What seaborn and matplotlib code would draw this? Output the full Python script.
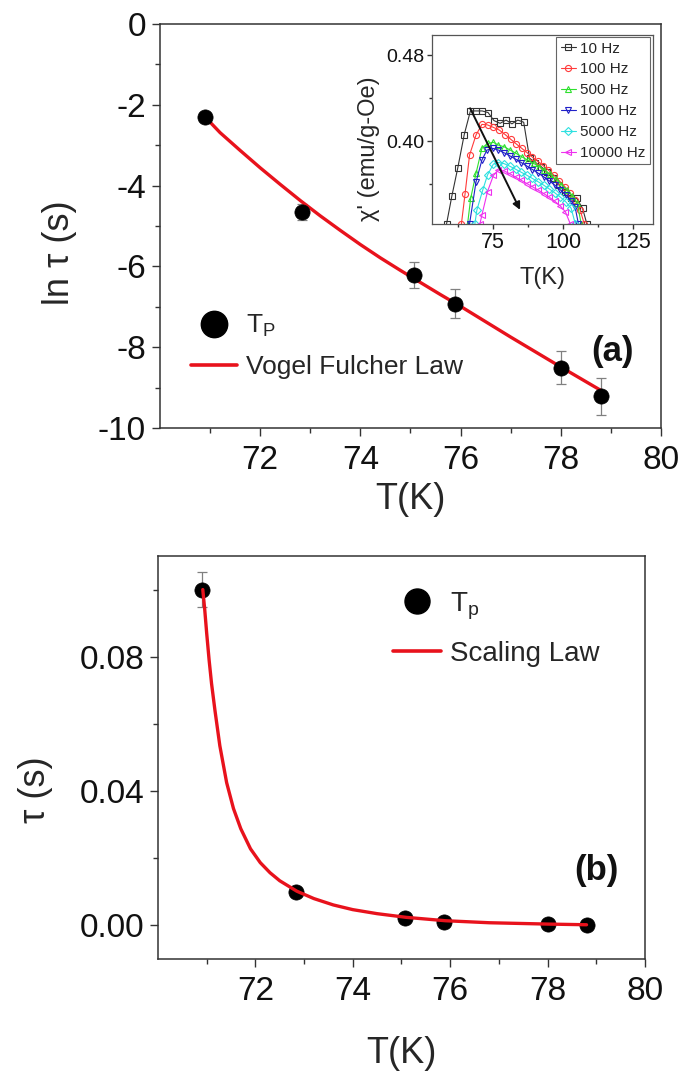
import numpy as np
import pandas as pd
import matplotlib
matplotlib.use("Agg")
import matplotlib.pyplot as plt
import seaborn as sns
from matplotlib.ticker import FixedLocator, FormatStrFormatter
from matplotlib.lines import Line2D

# ---------------- data ----------------
# (a) relaxation time vs peak temperature
tp_T = [70.9, 72.83, 75.08, 75.88, 78.0, 78.8]
ln_tau = [-2.30, -4.65, -6.22, -6.92, -8.51, -9.22]
ln_tau_err = [0.10, 0.20, 0.32, 0.36, 0.41, 0.45]

# Vogel-Fulcher fit curve
vf_T = [70.9, 71.2, 71.6, 72.0, 72.4, 72.8, 73.2, 73.6, 74.0, 74.4, 74.8,
        75.2, 75.6, 76.0, 76.5, 77.0, 77.5, 78.0, 78.4, 78.8]
vf_ln = [-2.30, -2.69, -3.13, -3.56, -3.97, -4.37, -4.75, -5.11, -5.46, -5.79,
         -6.10, -6.40, -6.70, -6.99, -7.37, -7.75, -8.12, -8.49, -8.78, -9.07]

# (b) tau vs T
tau = [0.100, 0.0100, 0.0021, 0.0011, 0.0003, 0.0001]
tau_err = [0.0052, 0.0, 0.0, 0.0, 0.0, 0.0]

# scaling-law fit curve
sc_T = [70.92, 70.96, 71.0, 71.05, 71.1, 71.17, 71.27, 71.41, 71.55, 71.7,
        71.9, 72.1, 72.3, 72.5, 72.85, 73.2, 73.6, 74.0, 74.5, 75.1, 75.9,
        76.8, 78.0, 78.8]
sc_tau = [0.100, 0.094, 0.087, 0.079, 0.072, 0.064, 0.0535, 0.0425, 0.0348,
          0.0288, 0.0228, 0.0187, 0.0157, 0.0133, 0.0102, 0.0080, 0.0061,
          0.0047, 0.0035, 0.0024, 0.0014, 0.0008, 0.0004, 0.0002]

# inset: chi' vs T for several frequencies
T10 = [58.4, 60.3, 62.4, 64.7, 66.9, 69.0, 71.1, 73.2, 75.3, 77.5, 79.6, 81.7,
       83.8, 85.9, 88.0, 90.1, 92.2, 94.3, 96.4, 98.5, 100.6, 102.7, 104.8, 106.9, 108.4]
C10 = [0.323, 0.349, 0.375, 0.406, 0.428, 0.428, 0.428, 0.4265, 0.419, 0.4165,
       0.4195, 0.416, 0.4195, 0.4175, 0.384, 0.380, 0.376, 0.371, 0.366, 0.359,
       0.353, 0.347, 0.3467, 0.3374, 0.323]
T100 = [63.7, 65.0, 66.6, 68.9, 71.0, 73.0, 75.1, 77.2, 79.3, 81.3, 83.3, 85.2,
        87.1, 89.0, 90.9, 92.8, 94.7, 96.6, 98.6, 100.6, 102.5, 104.3, 106.0, 107.5]
C100 = [0.323, 0.351, 0.387, 0.4056, 0.4155, 0.415, 0.4127, 0.4102, 0.4060,
        0.4016, 0.3972, 0.3932, 0.3892, 0.3850, 0.3812, 0.3772, 0.3730, 0.3684,
        0.3630, 0.3575, 0.3515, 0.3450, 0.3360, 0.323]
T500 = [65.9, 67.0, 68.9, 71.0, 73.0, 75.1, 76.9, 78.9, 81.1, 83.2, 85.2, 87.3,
        89.4, 91.4, 93.3, 95.3, 97.3, 99.3, 101.3, 103.2, 105.0, 106.4]
C500 = [0.323, 0.3467, 0.370, 0.3932, 0.3978, 0.3988, 0.3962, 0.3947, 0.3916,
        0.3885, 0.3854, 0.3823, 0.3793, 0.3762, 0.3730, 0.3690, 0.3645, 0.3595,
        0.3545, 0.3490, 0.3420, 0.323]
T1000 = [66.6, 68.9, 71.0, 72.8, 74.9, 76.9, 78.9, 81.0, 83.0, 85.0, 87.0, 89.0,
         91.0, 93.0, 95.0, 97.0, 99.0, 101.0, 102.8, 104.2, 105.4]
C1000 = [0.323, 0.362, 0.3823, 0.3916, 0.3932, 0.3916, 0.3891, 0.3862, 0.3832,
         0.3800, 0.3768, 0.3735, 0.3702, 0.3668, 0.3630, 0.3590, 0.3545, 0.3495,
         0.3445, 0.3390, 0.323]
T5000 = [68.5, 69.2, 71.3, 73.0, 75.1, 76.9, 78.9, 81.0, 83.0, 85.0, 87.0, 89.0,
         91.0, 93.0, 95.0, 97.0, 99.0, 101.0, 102.8, 104.3]
C5000 = [0.323, 0.3358, 0.3544, 0.3684, 0.3786, 0.3800, 0.3790, 0.3765, 0.3738,
         0.3710, 0.3682, 0.3652, 0.3622, 0.3590, 0.3555, 0.3518, 0.3478, 0.3432,
         0.3375, 0.323]
T10000 = [70.3, 71.0, 73.0, 75.1, 76.9, 78.9, 81.0, 83.0, 85.0, 87.0, 89.0, 91.0,
          93.0, 95.0, 97.0, 99.0, 100.8, 102.5]
C10000 = [0.323, 0.3312, 0.3530, 0.3680, 0.3730, 0.3722, 0.3695, 0.3665, 0.3635,
          0.3605, 0.3575, 0.3545, 0.3512, 0.3478, 0.3440, 0.3395, 0.3340, 0.323]

freq_labels = ["10 Hz", "100 Hz", "500 Hz", "1000 Hz", "5000 Hz", "10000 Hz"]
freq_T = [T10, T100, T500, T1000, T5000, T10000]
freq_C = [C10, C100, C500, C1000, C5000, C10000]
freq_colors = ["#333333", "#ff3b3b", "#2ee02e", "#2020c8", "#2ee0e0", "#ee30ee"]
freq_markers = ["s", "o", "^", "v", "D", "<"]
freq_msize = [4.2, 4.4, 4.8, 4.8, 3.8, 4.8]

# ---------------- style ----------------
sns.set_style("ticks")
plt.rcParams["font.family"] = ["Liberation Sans", "DejaVu Sans"]
plt.rcParams["mathtext.fontset"] = "custom"
plt.rcParams["mathtext.rm"] = "Liberation Sans"
plt.rcParams["mathtext.it"] = "Liberation Sans:italic"
plt.rcParams["mathtext.default"] = "regular"

spine_c = "#333333"
red = "#e8121c"

fig = plt.figure(figsize=(6.86, 10.75), dpi=100)
ax1 = fig.add_axes([0.2332, 0.6019, 0.7303, 0.3758])
ax2 = fig.add_axes([0.2303, 0.1079, 0.7099, 0.3749])
axi = fig.add_axes([0.6297, 0.7916, 0.3222, 0.1758])


def style_axis(ax, tick_fs, major_len=6, minor_len=3.5):
    for s in ax.spines.values():
        s.set_visible(True)
        s.set_color(spine_c)
        s.set_linewidth(1.1)
    ax.tick_params(which="both", direction="out", colors=spine_c,
                   top=False, right=False, width=1.0)
    ax.tick_params(which="major", length=major_len, labelsize=tick_fs,
                   labelcolor="#111111")
    ax.tick_params(which="minor", length=minor_len)
    ax.set_facecolor("white")


# ---------------- panel (a) ----------------
ax1.errorbar(tp_T, ln_tau, yerr=ln_tau_err, fmt="none", ecolor="#808080",
             elinewidth=0.9, capsize=3.5, capthick=0.9, zorder=2)
sns.lineplot(x=vf_T, y=vf_ln, color=red, lw=2.4, ax=ax1, estimator=None,
             sort=False, zorder=3)
sns.scatterplot(x=tp_T, y=ln_tau, color="black", s=120, edgecolor="black",
                linewidth=0.5, ax=ax1, zorder=4)
ax1.set_xlim(70, 80)
ax1.set_ylim(-10, 0)
ax1.xaxis.set_major_locator(FixedLocator([72, 74, 76, 78, 80]))
ax1.xaxis.set_minor_locator(FixedLocator([71, 73, 75, 77, 79]))
ax1.yaxis.set_major_locator(FixedLocator([0, -2, -4, -6, -8, -10]))
ax1.yaxis.set_minor_locator(FixedLocator([-1, -3, -5, -7, -9]))
ax1.yaxis.set_major_formatter(FormatStrFormatter("%d"))
style_axis(ax1, 24)
ax1.tick_params(axis="x", pad=6)
ax1.tick_params(axis="y", pad=4)
ax1.set_xlabel("T(K)", fontsize=26)
ax1.set_ylabel("ln τ (s)", fontsize=26)
ax1.xaxis.set_label_coords(0.5, -0.135)
ax1.yaxis.set_label_coords(-0.165, 0.433)

h1 = [Line2D([], [], ls="none", marker="o", color="black", markersize=19),
      Line2D([], [], color=red, lw=2.6)]
ax1.legend(h1, ["T$_{\\mathrm{P}}$", "Vogel Fulcher Law"], loc="upper left",
           bbox_to_anchor=(0.062, 0.285), frameon=False, fontsize=19,
           handlelength=1.75, handletextpad=0.35, labelspacing=0.6,
           borderpad=0, borderaxespad=0)
ax1.text(0.904, 0.19, "(a)", transform=ax1.transAxes, fontsize=25,
         fontweight="bold", ha="center", va="center", color="#111111")

# ---------------- inset ----------------
for lab, T, C, col, mk, ms in zip(freq_labels, freq_T, freq_C, freq_colors,
                                  freq_markers, freq_msize):
    sns.lineplot(x=T, y=C, ax=axi, color=col, lw=0.8, marker=mk, markersize=ms,
                 markerfacecolor="none", markeredgecolor=col,
                 markeredgewidth=0.8, estimator=None, sort=False, label=lab)
axi.annotate("", xy=(84.6, 0.336), xytext=(66.8, 0.4305),
             arrowprops=dict(arrowstyle="-|>", color="#111111", lw=1.4,
                             mutation_scale=11, shrinkA=0, shrinkB=0))
axi.set_xlim(53.2, 132)
axi.set_ylim(0.3228, 0.4986)
axi.xaxis.set_major_locator(FixedLocator([75, 100, 125]))
axi.xaxis.set_minor_locator(FixedLocator([62.5, 87.5, 112.5]))
axi.yaxis.set_major_locator(FixedLocator([0.40, 0.48]))
axi.yaxis.set_minor_locator(FixedLocator([0.36, 0.44]))
axi.yaxis.set_major_formatter(FormatStrFormatter("%.2f"))
style_axis(axi, 14, major_len=3.5, minor_len=2)
axi.tick_params(pad=2)
axi.tick_params(axis="x", labelsize=15.5)
for s in axi.spines.values():
    s.set_color("#555555")
    s.set_linewidth(0.9)
axi.set_xlabel("T(K)", fontsize=17)
axi.set_ylabel("χ' (emu/g-Oe)", fontsize=17)
axi.xaxis.set_label_coords(0.5, -0.23)
axi.yaxis.set_label_coords(-0.235, 0.40)
legi = axi.legend(loc="upper right", bbox_to_anchor=(0.988, 0.99), fontsize=11,
                  frameon=True, fancybox=False, framealpha=1, edgecolor="#666666",
                  borderpad=0.3, labelspacing=0.45, handlelength=1.0,
                  handletextpad=0.3, borderaxespad=0)
legi.get_frame().set_linewidth(0.8)

# ---------------- panel (b) ----------------
ax2.errorbar(tp_T, tau, yerr=tau_err, fmt="none", ecolor="#808080",
             elinewidth=0.9, capsize=3.5, capthick=0.9, zorder=2)
sns.scatterplot(x=tp_T, y=tau, color="black", s=120, edgecolor="black",
                linewidth=0.5, ax=ax2, zorder=3)
sns.lineplot(x=sc_T, y=sc_tau, color=red, lw=2.4, ax=ax2, estimator=None,
             sort=False, zorder=4)
ax2.set_xlim(70, 80)
ax2.set_ylim(-0.01, 0.11)
ax2.xaxis.set_major_locator(FixedLocator([72, 74, 76, 78, 80]))
ax2.xaxis.set_minor_locator(FixedLocator([71, 73, 75, 77, 79]))
ax2.yaxis.set_major_locator(FixedLocator([0.0, 0.04, 0.08]))
ax2.yaxis.set_minor_locator(FixedLocator([0.02, 0.06, 0.10]))
ax2.yaxis.set_major_formatter(FormatStrFormatter("%.2f"))
style_axis(ax2, 24)
ax2.tick_params(axis="x", pad=6)
ax2.tick_params(axis="y", pad=4)
ax2.set_xlabel("T(K)", fontsize=26)
ax2.set_ylabel("τ (s)", fontsize=26)
ax2.xaxis.set_label_coords(0.5, -0.19)
ax2.yaxis.set_label_coords(-0.215, 0.42)

h2 = [Line2D([], [], ls="none", marker="o", color="black", markersize=18),
      Line2D([], [], color=red, lw=2.6)]
ax2.legend(h2, ["T$_{\\mathrm{p}}$", "Scaling Law"], loc="upper left",
           bbox_to_anchor=(0.482, 0.915), frameon=False, fontsize=20,
           handlelength=1.75, handletextpad=0.3, labelspacing=0.7,
           borderpad=0, borderaxespad=0)
ax2.text(0.9, 0.22, "(b)", transform=ax2.transAxes, fontsize=25,
         fontweight="bold", ha="center", va="center", color="#111111")

fig.savefig("out.png", dpi=100, facecolor="white")
